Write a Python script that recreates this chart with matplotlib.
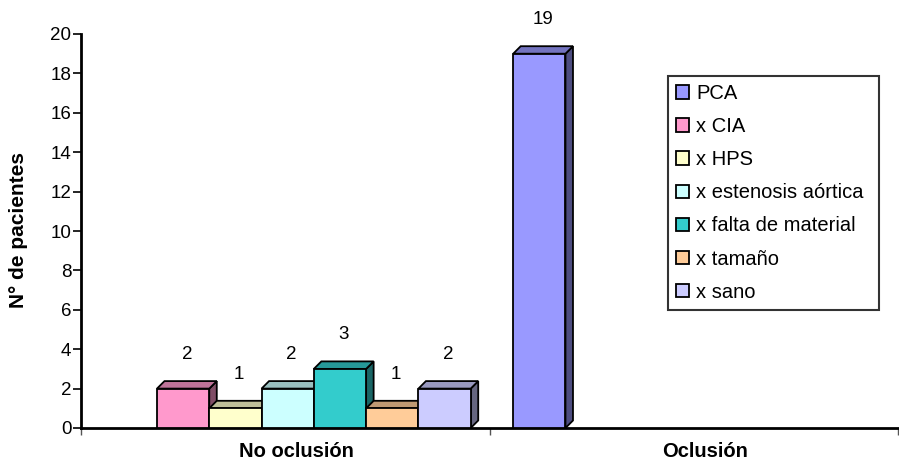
import numpy as np
import matplotlib.pyplot as plt
from matplotlib.patches import Polygon
from matplotlib.colors import to_rgb

plt.rcParams['font.family'] = ['Liberation Sans', 'DejaVu Sans']

categories = ['No oclusión', 'Oclusión']
series = ['PCA', 'x CIA', 'x HPS', 'x estenosis aórtica', 'x falta de material', 'x tamaño', 'x sano']
values = [
    [np.nan, 19],   # PCA
    [2, np.nan],    # x CIA
    [1, np.nan],    # x HPS
    [2, np.nan],    # x estenosis aórtica
    [3, np.nan],    # x falta de material
    [1, np.nan],    # x tamaño
    [2, np.nan],    # x sano
]
colors = ['#9999FF', '#FF99CC', '#FFFFCC', '#CCFFFF', '#33CCCC', '#FFCC99', '#CCCCFF']

W, H = 899, 462
fig = plt.figure(figsize=(W / 100, H / 100), dpi=100)
ax = fig.add_axes([81 / W, 1 - 428 / H, 817 / W, 394 / H])
ax.set_xlim(0, 2)
ax.set_ylim(0, 20)

# depth of the pseudo-3D boxes, in pixels, converted to data units
depth_px = 7.5
dx = depth_px * 2 / 817
dy = depth_px * 20 / 394

def shade(c, f):
    r, g, b = to_rgb(c)
    return (r * f, g * f, b * f)

slot = 0.128
start = 0.058
for i, (name, vals) in enumerate(zip(series, values)):
    for j, v in enumerate(vals):
        if np.isnan(v):
            continue
        x0 = j + start + i * slot
        x1 = x0 + slot
        side = Polygon([(x1, 0), (x1 + dx, dy), (x1 + dx, v + dy), (x1, v)],
                       closed=True, fc=shade(colors[i], 0.5), ec='black', lw=1.3, zorder=3)
        top = Polygon([(x0, v), (x0 + dx, v + dy), (x1 + dx, v + dy), (x1, v)],
                      closed=True, fc=shade(colors[i], 0.75), ec='black', lw=1.3, zorder=3)
        ax.add_patch(side)
        ax.add_patch(top)
        ax.bar(x0, v, width=slot, align='edge', color=colors[i], edgecolor='black',
               lw=1.3, zorder=4, label=name)
        ax.annotate(f'{v:g}', (x0 + slot / 2 + dx / 2, v + dy), xytext=(0, 13),
                    textcoords='offset points', ha='center', va='bottom', fontsize=13.5)

for s in ['top', 'right']:
    ax.spines[s].set_visible(False)
ax.spines['left'].set_linewidth(2)
ax.spines['bottom'].set_linewidth(2)

ax.set_yticks(np.arange(0, 21, 2))
ax.tick_params(axis='y', labelsize=13.5, length=6, width=1.2, pad=1)
ax.set_xticks([0, 1, 2])
ax.set_xticklabels([])
ax.set_xticks([0.527, 1.527], minor=True)
ax.set_xticklabels(categories, minor=True, fontsize=14.5, fontweight='bold')
ax.tick_params(axis='x', which='major', length=5, width=1, color='#555555')
ax.tick_params(axis='x', which='minor', length=0, pad=10)
fig.text(19 / W, 1 - 230 / H, 'N° de pacientes', rotation=90, ha='center', va='center',
         fontsize=15, fontweight='bold')

handles, labels = ax.get_legend_handles_labels()
leg = fig.legend(handles, labels, loc='upper left',
                 bbox_to_anchor=(668 / W, 1 - 76 / H, 211 / W, 0), mode='expand',
                 fontsize=14.5, frameon=True, fancybox=False, borderpad=0.4,
                 handlelength=0.65, handleheight=0.65, handletextpad=0.35, labelspacing=0.7,
                 borderaxespad=0)
leg.get_frame().set_edgecolor('black')
leg.get_frame().set_linewidth(1.5)

fig.savefig('out.png', dpi=100)
